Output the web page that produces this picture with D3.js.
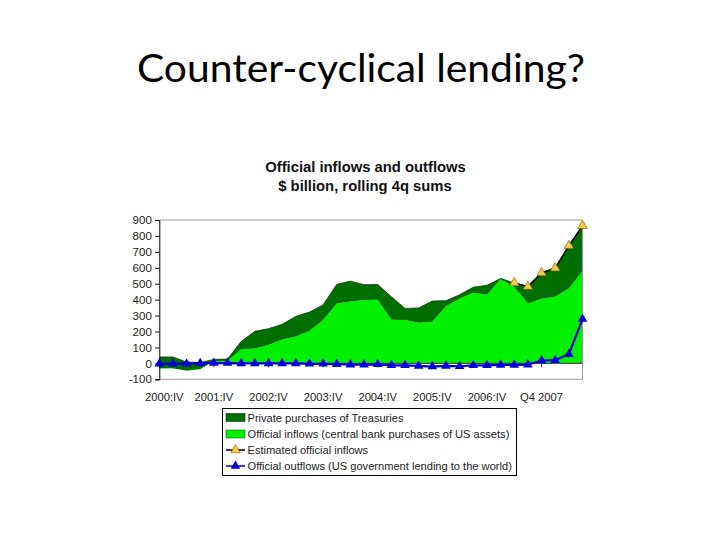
<!DOCTYPE html>
<html><head><meta charset="utf-8">
<script src="https://cdn.jsdelivr.net/npm/d3@7/dist/d3.min.js"></script>
<style>body{margin:0;background:#fff}svg{display:block}</style>
</head><body>
<svg id="c" width="720" height="540"></svg>
<script>
const categories = ["2000:IV","2001:I","2001:II","2001:III","2001:IV","2002:I","2002:II","2002:III","2002:IV","2003:I","2003:II","2003:III","2003:IV","2004:I","2004:II","2004:III","2004:IV","2005:I","2005:II","2005:III","2005:IV","2006:I","2006:II","2006:III","2006:IV","2007:I","2007:II","2007:III","Q4 2007","2008:I","2008:II","2008:III"];
const tickLabels = ["2000:IV","2001:IV","2002:IV","2003:IV","2004:IV","2005:IV","2006:IV","Q4 2007"];
const officialInflows = [-30,-30,-45,-35,15,15,88,93,116,150,168,203,272,376,388,398,400,274,272,255,262,358,406,444,430,528,480,376,406,418,470,578];
const privatePurchases = [70,70,53,40,10,12,50,108,102,95,127,119,95,120,128,96,95,144,73,93,129,35,25,34,60,5,25,106,162,180,268,286];
const estimatedOfficial = [null,null,null,null,null,null,null,null,null,null,null,null,null,null,null,null,null,null,null,null,null,null,null,null,null,null,505,482,568,598,738,864];
const officialOutflows = [-3,-2,-2,1,2,2,0,0,0,0,0,-3,-3,-5,-8,-8,-6,-12,-12,-16,-20,-16,-18,-12,-12,-10,-10,-8,18,20,58,278];
const yTicks = [-100,0,100,200,300,400,500,600,700,800,900];
const legendLabels = ["Private purchases of Treasuries","Official inflows (central bank purchases of US assets)","Estimated official inflows","Official outflows (US government lending to the world)"];

const svg = d3.select("#c");
const L = 159.3, R = 582.5, T = 220, B = 379.3;
const x = d3.scalePoint().domain(categories).range([L, R]);
const y = d3.scaleLinear().domain([-100, 900]).range([B, T]);
const font = "'Liberation Sans', Arial, sans-serif";
const dark = "#006e00", light = "#00f000", blue = "#0000d8";

// main title
svg.append("text").attr("x", 361).attr("y", 82).attr("text-anchor", "middle")
  .attr("font-family", "Lato, 'Open Sans', sans-serif").attr("font-size", 38)
  .attr("textLength", 448).attr("lengthAdjust", "spacingAndGlyphs")
  .attr("fill", "#000").text("Counter-cyclical lending?");

// chart title
svg.append("text").attr("x", 365.5).attr("y", 172).attr("text-anchor", "middle")
  .attr("font-family", font).attr("font-weight", "bold").attr("font-size", 14.8).attr("fill", "#111")
  .text("Official inflows and outflows");
svg.append("text").attr("x", 365).attr("y", 190.5).attr("text-anchor", "middle")
  .attr("font-family", font).attr("font-weight", "bold").attr("font-size", 14.8).attr("fill", "#111")
  .text("$ billion, rolling 4q sums");

// stacked areas
const rows = categories.map((c, i) => ({cat: c, official: officialInflows[i], private: privatePurchases[i]}));
const stack = d3.stack().keys(["official", "private"]);
const series = stack(rows);
const area = d3.area().x(d => x(d.data.cat)).y0(d => y(d[0])).y1(d => y(d[1]));
svg.append("path").datum(series[0]).attr("d", area).attr("fill", light);
svg.append("path").datum(series[1]).attr("d", area).attr("fill", dark);
svg.append("path").datum(series[1])
  .attr("d", d3.line().x(d => x(d.data.cat)).y(d => y(d[1])))
  .attr("fill", "none").attr("stroke", "#0a3a0a").attr("stroke-width", 0.8);

// plot border (top, right, bottom)
svg.append("path").attr("d", `M${L},${T}H${R}V${B}H${L}`).attr("fill", "none").attr("stroke", "#9a9a9a").attr("stroke-width", 1);

// category axis at zero
svg.append("line").attr("x1", L).attr("x2", R).attr("y1", y(0)).attr("y2", y(0)).attr("stroke", "#333").attr("stroke-width", 1);
categories.forEach((c, i) => {
  if (i % 4 === 0) {
    svg.append("line").attr("x1", x(c)).attr("x2", x(c)).attr("y1", y(0)).attr("y2", y(0) + 4).attr("stroke", "#333");
  }
});

// y axis
const yAxis = svg.append("g").attr("transform", `translate(${L},0)`)
  .call(d3.axisLeft(y).tickValues(yTicks).tickSize(4).tickPadding(3.5).tickFormat(d => String(d)));
yAxis.select(".domain").attr("stroke", "#000");
yAxis.selectAll(".tick line").attr("stroke", "#000");
yAxis.selectAll("text").attr("font-family", font).attr("font-size", 11.5).attr("fill", "#222");

// x labels
tickLabels.forEach((t, k) => {
  const c = categories[k * 4];
  svg.append("text").attr("x", x(c) + (k === 0 ? 5 : 0)).attr("y", 400.5).attr("text-anchor", "middle")
    .attr("font-family", font).attr("font-size", 11.2).attr("fill", "#222").text(t);
});

const tri = d3.symbol().type(d3.symbolTriangle).size(40);

// estimated official inflows
const estPts = categories.map((c, i) => ({cat: c, v: estimatedOfficial[i]})).filter(d => d.v !== null);
svg.append("path").datum(estPts)
  .attr("d", d3.line().x(d => x(d.cat)).y(d => y(d.v)))
  .attr("fill", "none").attr("stroke", "#000").attr("stroke-width", 1.5);
svg.selectAll(".est").data(estPts).join("path")
  .attr("transform", d => `translate(${x(d.cat)},${y(d.v)})`)
  .attr("d", tri).attr("fill", "#f2c94a").attr("stroke", "#7a5c00").attr("stroke-width", 0.6);

// official outflows
const outPts = categories.map((c, i) => ({cat: c, v: officialOutflows[i]}));
svg.append("path").datum(outPts)
  .attr("d", d3.line().x(d => x(d.cat)).y(d => y(d.v)))
  .attr("fill", "none").attr("stroke", blue).attr("stroke-width", 2.2);
svg.selectAll(".out").data(outPts).join("path")
  .attr("transform", d => `translate(${x(d.cat)},${y(d.v)})`)
  .attr("d", tri).attr("fill", blue);

// legend
svg.append("defs").append("clipPath").attr("id", "lgclip")
  .append("rect").attr("x", 222.5).attr("y", 408.5).attr("width", 294).attr("height", 67);
const lg = svg.append("g");
lg.append("rect").attr("x", 222.5).attr("y", 408.5).attr("width", 294).attr("height", 67)
  .attr("fill", "#fff").attr("stroke", "none");
const ly = [417.5, 434, 450, 466];
lg.append("rect").attr("x", 226).attr("y", ly[0] - 4).attr("width", 19).attr("height", 8).attr("fill", dark).attr("stroke", "#033").attr("stroke-width", 0.6);
lg.append("rect").attr("x", 226).attr("y", ly[1] - 4).attr("width", 19).attr("height", 8).attr("fill", light).attr("stroke", "#063").attr("stroke-width", 0.6);
lg.append("line").attr("x1", 226).attr("x2", 245).attr("y1", ly[2]).attr("y2", ly[2]).attr("stroke", "#000").attr("stroke-width", 1.5);
lg.append("path").attr("transform", `translate(235.5,${ly[2]})`).attr("d", tri).attr("fill", "#f2c94a").attr("stroke", "#7a5c00").attr("stroke-width", 0.6);
lg.append("line").attr("x1", 226).attr("x2", 245).attr("y1", ly[3]).attr("y2", ly[3]).attr("stroke", blue).attr("stroke-width", 1.5);
lg.append("path").attr("transform", `translate(235.5,${ly[3]})`).attr("d", tri).attr("fill", blue);
const lgText = lg.append("g").attr("clip-path", "url(#lgclip)");
legendLabels.forEach((t, i) => {
  lgText.append("text").attr("x", 247.5).attr("y", ly[i] + 4).attr("font-family", font).attr("font-size", 11.1)
    .attr("fill", "#222").text(t);
});
lg.append("rect").attr("x", 222.5).attr("y", 408.5).attr("width", 294).attr("height", 67)
  .attr("fill", "none").attr("stroke", "#000").attr("stroke-width", 1);
</script>
</body></html>
